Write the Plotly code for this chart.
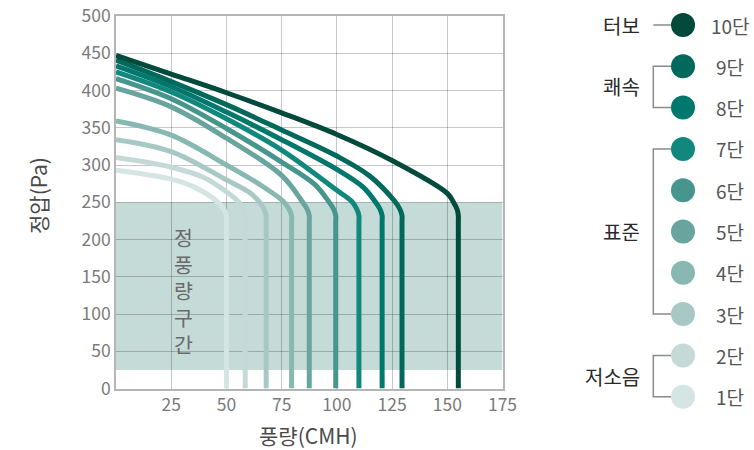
import plotly.graph_objects as go

# ---------------- data ----------------
speed_labels = ["1단", "2단", "3단", "4단", "5단", "6단", "7단", "8단", "9단", "10단"]
speed_colors = ["#d5e5e3", "#c5dad8", "#a8c8c5", "#88b8b2", "#68a59f",
                "#46968e", "#10887d", "#00786d", "#00695b", "#024b3c"]

flow_1 = [0, 25, 35, 45, 48.5, 50, 50, 50]
pres_1 = [293, 281, 271, 253, 242, 232, 224, 0]
flow_2 = [0, 25, 40, 50, 55.3, 57.5, 58.5, 58.5, 58.5]
pres_2 = [310, 297, 283, 264, 251, 241, 232, 224, 0]
flow_3 = [0, 25, 50, 60, 64.8, 67, 68, 68, 68]
pres_3 = [334, 318, 280, 264, 251, 241, 232, 224, 0]
flow_4 = [0, 25, 50, 65, 75.8, 78.3, 79.5, 79.5, 79.5]
pres_4 = [359, 340, 300, 274, 251, 241, 232, 224, 0]
flow_5 = [0, 25, 50, 75, 84.3, 86.5, 87.5, 87.5, 87.5]
pres_5 = [403, 378, 336, 286, 251, 241, 232, 224, 0]
flow_6 = [0, 25, 50, 75, 90, 96.3, 98.5, 99.5, 99.5, 99.5]
pres_6 = [416, 389, 349, 304, 274, 251, 241, 232, 224, 0]
flow_7 = [0, 25, 50, 75, 100, 106.8, 109, 110, 110, 110]
pres_7 = [425, 398, 362, 320, 266, 251, 241, 232, 224, 0]
flow_8 = [0, 25, 50, 75, 100, 112, 117.3, 119.5, 120.5, 120.5, 120.5]
pres_8 = [433, 405, 371, 334, 294, 270, 251, 241, 232, 224, 0]
flow_9 = [0, 25, 50, 75, 100, 115, 126.3, 128.5, 129.5, 129.5, 129.5]
pres_9 = [441, 412, 381, 347, 312, 285, 251, 241, 232, 224, 0]
flow_10 = [0, 25, 50, 75, 100, 125, 150, 152.8, 154.5, 155, 155, 155]
pres_10 = [447, 422, 397, 370, 341, 306, 262, 250, 240, 232, 224, 0]

flows = [flow_1, flow_2, flow_3, flow_4, flow_5, flow_6, flow_7, flow_8, flow_9, flow_10]
pressures = [pres_1, pres_2, pres_3, pres_4, pres_5, pres_6, pres_7, pres_8, pres_9, pres_10]

const_zone_low = 25
const_zone_high = 250
const_zone_label = "정풍량구간"

x_ticks = [25, 50, 75, 100, 125, 150, 175]
y_ticks = [0, 50, 100, 150, 200, 250, 300, 350, 400, 450, 500]

x_title = "풍량(CMH)"
y_title = "정압(Pa)"

# groups: label, first speed index, last speed index
group_names = ["저소음", "표준", "쾌속", "터보"]
group_first = [0, 2, 7, 9]
group_last = [1, 6, 8, 9]

# ---------------- figure ----------------
W, H = 754, 450
FONT = "Noto Sans CJK KR"
plot_l, plot_r, plot_t, plot_b = 116, 502.5, 16, 388.5

fig = go.Figure()

for i in range(len(speed_labels)):
    fig.add_trace(go.Scatter(
        x=flows[i], y=pressures[i], mode="lines",
        line=dict(color=speed_colors[i], width=5, shape="spline", smoothing=1.0),
        name=speed_labels[i], showlegend=False, hoverinfo="skip",
    ))

fig.add_shape(type="rect", xref="x", yref="y", x0=0, x1=175,
              y0=const_zone_low, y1=const_zone_high,
              fillcolor="#c5dbd8", line=dict(width=0), layer="below")

# vertical zone label (one char per line)
fig.add_annotation(x=183.5, y=290, xref="x2", yref="y2",
                   text="<br>".join(const_zone_label), showarrow=False,
                   font=dict(family=FONT, size=20.5, color="#6a6a6a"),
                   xanchor="center", yanchor="middle", align="center")

# axis titles
fig.add_annotation(x=308, y=435, xref="x2", yref="y2", text=x_title, showarrow=False,
                   font=dict(family=FONT, size=21, color="#4a4a4a"),
                   xanchor="center", yanchor="middle")
fig.add_annotation(x=38, y=196, xref="x2", yref="y2", text=y_title, showarrow=False,
                   textangle=-90, font=dict(family=FONT, size=21, color="#4a4a4a"),
                   xanchor="center", yanchor="middle")

# ---------------- custom legend ----------------
leg_x = 683
leg_y0 = 25
leg_dy = 41.3
order = list(range(len(speed_labels)))[::-1]  # 10단 at top
leg_ys = [leg_y0 + k * leg_dy for k in range(len(order))]
row_of = {idx: leg_ys[k] for k, idx in enumerate(order)}

bracket_x = 653.3
bracket_end = 671
for name, a, b in zip(group_names, group_first, group_last):
    ya, yb = row_of[a], row_of[b]
    if a == b:
        fig.add_shape(type="line", xref="x2", yref="y2", x0=bracket_x, x1=bracket_end,
                      y0=ya, y1=ya, line=dict(color="#8a8a8a", width=1.5))
    else:
        fig.add_shape(type="path", xref="x2", yref="y2",
                      path=f"M {bracket_end},{ya} L {bracket_x},{ya} L {bracket_x},{yb} L {bracket_end},{yb}",
                      line=dict(color="#8a8a8a", width=1.5))
    ymid = (ya + yb) / 2
    if name == "표준":
        ymid = row_of[4]
    fig.add_annotation(x=642, y=ymid, xref="x2", yref="y2", text=name,
                       showarrow=False, xanchor="right", yanchor="middle",
                       font=dict(family=FONT, size=20, color="#2a2a2a"))

fig.add_trace(go.Scatter(
    x=[leg_x] * len(order), y=[row_of[i] for i in range(len(speed_labels))],
    mode="markers", marker=dict(size=24, color=speed_colors, line=dict(width=0)),
    xaxis="x2", yaxis="y2", showlegend=False, hoverinfo="skip", cliponaxis=False,
))
for i, lab in enumerate(speed_labels):
    fig.add_annotation(x=730, y=row_of[i], xref="x2", yref="y2", text=lab,
                       showarrow=False, xanchor="center", yanchor="middle",
                       font=dict(family=FONT, size=19, color="#555555"))

fig.update_layout(
    width=W, height=H,
    margin=dict(l=0, r=0, t=0, b=0, autoexpand=False),
    paper_bgcolor="white", plot_bgcolor="rgba(0,0,0,0)",
    font=dict(family=FONT, color="#777777"),
    showlegend=False,
    xaxis=dict(
        domain=[plot_l / W, plot_r / W], range=[0, 175], automargin=False,
        tickvals=x_ticks, ticktext=[str(v) for v in x_ticks],
        showgrid=True, gridcolor="rgba(0,0,0,0.22)", gridwidth=1.2,
        zeroline=False, showline=True, linecolor="#b5b5b5", linewidth=1.5, mirror=True,
        ticks="", tickfont=dict(family=FONT, size=17.5, color="#7a7a7a"),
        fixedrange=True,
    ),
    yaxis=dict(
        domain=[1 - plot_b / H, 1 - plot_t / H], range=[0, 500], automargin=False,
        tickvals=y_ticks, ticktext=[str(v) for v in y_ticks],
        showgrid=True, gridcolor="rgba(0,0,0,0.22)", gridwidth=1.2,
        zeroline=False, showline=True, linecolor="#b5b5b5", linewidth=1.5, mirror=True,
        ticks="", tickfont=dict(family=FONT, size=17.5, color="#7a7a7a"),
        fixedrange=True,
    ),
    xaxis2=dict(domain=[0, 1], range=[0, W], visible=False, anchor="y2", fixedrange=True),
    yaxis2=dict(domain=[0, 1], range=[H, 0], visible=False, anchor="x2", fixedrange=True),
)

fig.write_html("out.html", config={"displayModeBar": False},
               post_script="document.body.style.margin='0';")
